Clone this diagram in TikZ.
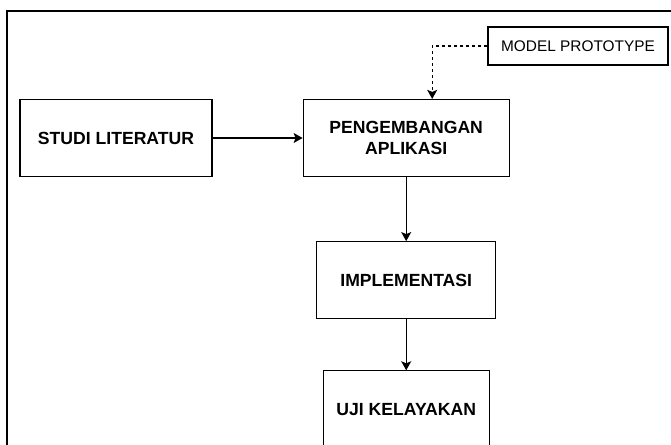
\documentclass[tikz,border=0pt]{standalone}
\usepackage{fontspec}
\setmainfont{Liberation Sans}
\usetikzlibrary{arrows.meta, positioning}

\tikzset{
    stage/.style={draw, line width=1.2pt, minimum height=77pt, inner sep=0pt,
        align=center, font=\bfseries\fontsize{17.6}{21}\selectfont},
    note/.style={draw, line width=1.2pt, minimum width=180pt, minimum height=38pt,
        inner sep=0pt, font=\fontsize{15.4}{18}\selectfont},
    flow/.style={line width=1.2pt, -{Stealth[length=9pt, width=10pt, inset=2pt]}},
    frame/.style={line width=2.2pt},
}

\begin{document}
\begin{tikzpicture}[x=1pt, y=1pt]
\useasboundingbox (0,0) rectangle (671,444);
\draw[frame] (7,-10) |- (690,433);

\node[stage, minimum width=192pt] (studi) at (116,306) {STUDI LITERATUR};
\node[stage, minimum width=206pt] (peng) [right=90pt of studi] {PENGEMBANGAN\\APLIKASI};
\node[stage, minimum width=179pt] (impl) [below=64pt of peng] {IMPLEMENTASI};
\node[stage, minimum width=166pt] (uji) [below=51pt of impl] {UJI KELAYAKAN};
\node[note] (model) at (578,398) {MODEL PROTOTYPE};

\draw[flow] (studi) -- (peng);
\draw[flow] (peng) -- (impl);
\draw[flow] (impl) -- (uji);
\draw[flow, dashed] (model.west) -| ([xshift=26pt]peng.north);
\end{tikzpicture}
\end{document}
